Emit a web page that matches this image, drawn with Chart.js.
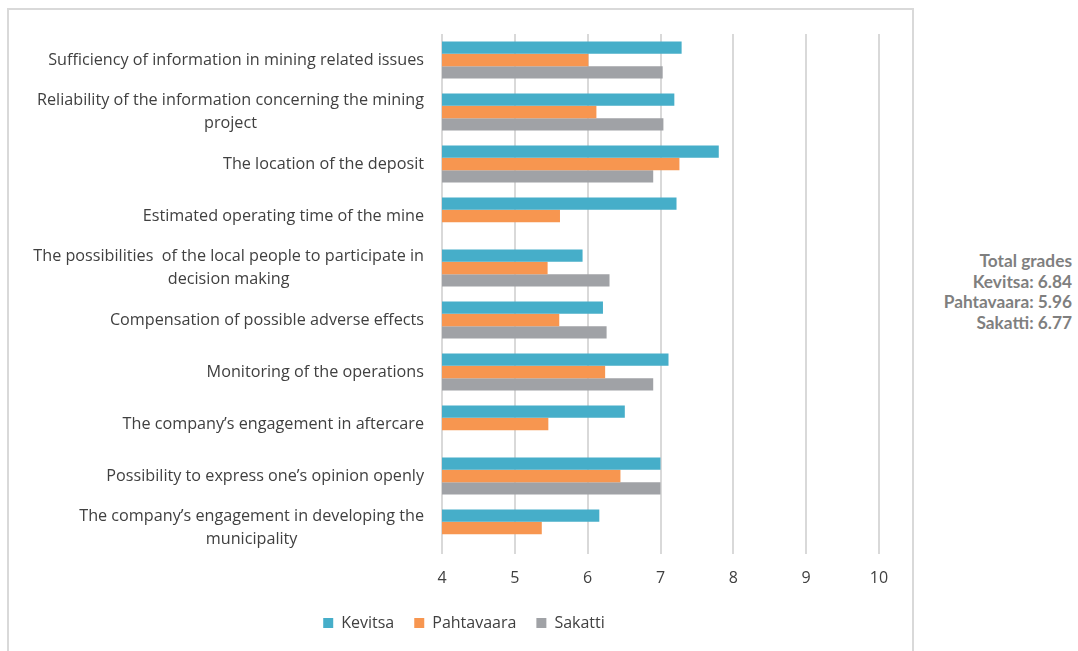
<!DOCTYPE html>
<html>
<head>
<meta charset="utf-8">
<script src="https://cdn.jsdelivr.net/npm/chart.js@4"></script>
<style>
    body { margin: 0; background: #fff; width: 1078px; height: 651px; overflow: hidden; font-family: Lato, "Open Sans", sans-serif; }
    #frame { position: absolute; left: 7px; top: 8px; width: 903px; height: 645px; border: 2px solid #d9d9d9; border-bottom: none; }
    #chart-box { position: relative; width: 903px; height: 641px; }
    #totals { position: absolute; right: 6px; top: 251px; text-align: right; font-weight: bold; font-size: 17.3px; line-height: 20.7px; color: #7f7f7f; }
</style>
</head>
<body>
<div id="frame">
    <div id="chart-box"><canvas id="grades-chart"></canvas></div>
</div>
<div id="totals">Total grades<br>Kevitsa: 6.84<br>Pahtavaara: 5.96<br>Sakatti: 6.77</div>
<script>
// Categories (top to bottom), multi-line ones as arrays
const categories = [
    ['Sufficiency of information in mining related issues'],
    ['Reliability of the information concerning the mining', 'project'],
    ['The location of the deposit'],
    ['Estimated operating time of the mine'],
    ['The possibilities  of the local people to participate in', 'decision making'],
    ['Compensation of possible adverse effects'],
    ['Monitoring of the operations'],
    ['The company\u2019s engagement in aftercare'],
    ['Possibility to express one\u2019s opinion openly'],
    ['The company\u2019s engagement in developing the', 'municipality']
];

const kevitsa    = [7.29, 7.19, 7.80, 7.22, 5.93, 6.21, 7.11, 6.51, 7.00, 6.16];
const pahtavaara = [6.01, 6.12, 7.26, 5.62, 5.45, 5.61, 6.24, 5.46, 6.45, 5.37];
const sakatti    = [7.03, 7.04, 6.90, null, 6.30, 6.26, 6.90, null, 7.00, null];

const xTicks = [4, 5, 6, 7, 8, 9, 10];

const fontFamily = '"Open Sans", sans-serif';
const labelFont = '16.2px ' + fontFamily;
const textColor = '#404040';

// Draws the category labels: block right-aligned next to the axis, lines centred
const categoryLabels = {
    id: 'categoryLabels',
    afterDraw(chart) {
        const ctx = chart.ctx;
        const yScale = chart.scales.y;
        const rightX = chart.chartArea.left - 18;
        const lineH = 22.5;
        ctx.save();
        ctx.font = labelFont;
        ctx.fillStyle = textColor;
        ctx.textAlign = 'center';
        ctx.textBaseline = 'middle';
        categories.forEach((lines, i) => {
            const y = yScale.getPixelForValue(i);
            const maxW = Math.max(...lines.map(l => ctx.measureText(l).width));
            const cx = rightX - maxW / 2;
            lines.forEach((line, j) => {
                ctx.fillText(line, cx, y + (j - (lines.length - 1) / 2) * lineH);
            });
        });
        ctx.restore();
    }
};

const ctx = document.getElementById('grades-chart').getContext('2d');

new Chart(ctx, {
    type: 'bar',
    data: {
        labels: categories.map(c => c.join(' ')),
        datasets: [
            { label: 'Kevitsa', data: kevitsa, backgroundColor: '#46AEC9' },
            { label: 'Pahtavaara', data: pahtavaara, backgroundColor: '#F79650' },
            { label: 'Sakatti', data: sakatti, backgroundColor: '#A0A2A6' }
        ]
    },
    options: {
        indexAxis: 'y',
        responsive: true,
        maintainAspectRatio: false,
        animation: false,
        layout: { padding: { top: 24, right: 33, left: 40, bottom: 10 } },
        datasets: {
            bar: { categoryPercentage: 0.71, barPercentage: 1.0 }
        },
        scales: {
            x: {
                min: xTicks[0],
                max: xTicks[xTicks.length - 1],
                afterBuildTicks: scale => { scale.ticks = xTicks.map(v => ({ value: v })); },
                afterFit: scale => { scale.height = 41; },
                grid: { color: '#d9d9d9', lineWidth: 2, drawTicks: false },
                border: { display: false },
                ticks: { color: textColor, font: { size: 16, family: fontFamily }, padding: 15 }
            },
            y: {
                afterFit: scale => { scale.width = 393; },
                grid: { display: false },
                border: { display: false },
                ticks: { display: false }
            }
        },
        plugins: {
            legend: {
                position: 'bottom',
                labels: {
                    boxWidth: 10,
                    boxHeight: 10,
                    padding: 20,
                    color: textColor,
                    font: { size: 16, family: fontFamily }
                }
            },
            tooltip: { enabled: false }
        }
    },
    plugins: [categoryLabels]
});
</script>
</body>
</html>
